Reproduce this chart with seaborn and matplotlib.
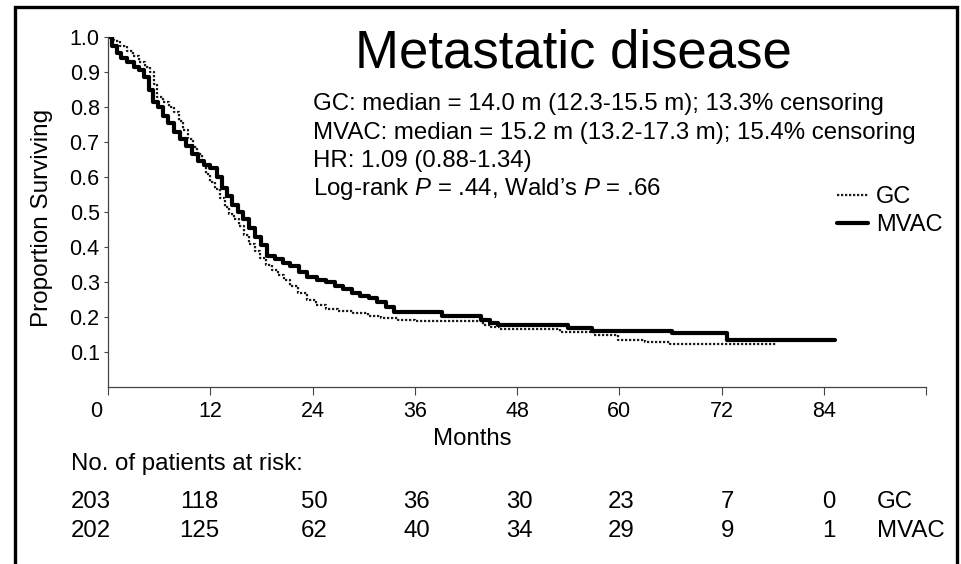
import numpy as np
import pandas as pd
import seaborn as sns
import matplotlib
matplotlib.use("Agg")
import matplotlib.pyplot as plt
from matplotlib.patches import Rectangle
import matplotlib.transforms as mtransforms

# ---------------- data ----------------
gc_months = [0, 0.7, 1.4, 2.2, 2.9, 3.6, 4.3, 4.9, 5.4, 5.8,
             6.5, 7.2, 7.8, 8.3, 8.8, 9.4, 10.0, 10.5, 11.0, 11.5,
             12.0, 12.6, 13.2, 13.7, 14.2, 14.8, 15.4, 16.0, 16.6, 17.2,
             17.8, 18.5, 19.2, 19.9, 20.6, 21.4, 22.3, 23.3, 24.4, 25.6,
             27.0, 28.8, 30.5, 32.0, 34.0, 36.0, 44.0, 45.0, 46.0, 53.0,
             57.0, 59.8, 63.0, 66.0, 78.5]
gc_surv = [1.0, 0.99, 0.975, 0.96, 0.945, 0.93, 0.915, 0.90, 0.865, 0.83,
           0.815, 0.80, 0.785, 0.76, 0.735, 0.71, 0.685, 0.665, 0.64, 0.61,
           0.585, 0.565, 0.54, 0.515, 0.495, 0.48, 0.46, 0.435, 0.41, 0.39,
           0.37, 0.35, 0.335, 0.32, 0.305, 0.29, 0.27, 0.25, 0.235, 0.222,
           0.216, 0.212, 0.203, 0.197, 0.192, 0.189, 0.178, 0.171, 0.166, 0.158,
           0.148, 0.135, 0.129, 0.123, 0.123]

mvac_months = [0, 0.5, 1.0, 1.5, 2.2, 3.0, 3.6, 4.2, 4.8, 5.3,
               5.9, 6.5, 7.1, 7.8, 8.5, 9.2, 9.9, 10.6, 11.3, 12.0,
               12.8, 13.4, 14.0, 14.6, 15.2, 15.9, 16.6, 17.3, 18.0, 18.7,
               19.6, 20.5, 21.4, 22.4, 23.4, 24.5, 25.6, 26.6, 27.6, 28.6,
               29.6, 30.6, 31.6, 32.6, 33.6, 39.2, 43.8, 44.8, 45.8, 54.0,
               56.8, 66.2, 72.6, 85.3]
mvac_surv = [1.0, 0.975, 0.955, 0.94, 0.93, 0.915, 0.905, 0.885, 0.85, 0.815,
             0.80, 0.775, 0.755, 0.73, 0.71, 0.69, 0.665, 0.645, 0.635, 0.625,
             0.60, 0.57, 0.546, 0.52, 0.50, 0.48, 0.455, 0.43, 0.405, 0.375,
             0.365, 0.355, 0.345, 0.33, 0.315, 0.305, 0.30, 0.29, 0.28, 0.27,
             0.26, 0.255, 0.243, 0.23, 0.214, 0.203, 0.192, 0.183, 0.177, 0.168,
             0.160, 0.154, 0.134, 0.134]

x_ticks = [0, 12, 24, 36, 48, 60, 72, 84, 96]
x_tick_labels = ["0", "12", "24", "36", "48", "60", "72", "84", ""]
y_ticks = [0.1, 0.2, 0.3, 0.4, 0.5, 0.6, 0.7, 0.8, 0.9, 1.0]
y_tick_labels = ["0.1", "0.2", "0.3", "0.4", "0.5", "0.6", "0.7", "0.8", "0.9", "1.0"]

risk_months = [0, 12, 24, 36, 48, 60, 72, 84]
risk_gc = [203, 118, 50, 36, 30, 23, 7, 0]
risk_mvac = [202, 125, 62, 40, 34, 29, 9, 1]

title = "Metastatic disease"
stats_lines = [
    "GC: median = 14.0 m (12.3-15.5 m); 13.3% censoring",
    "MVAC: median = 15.2 m (13.2-17.3 m); 15.4% censoring",
    "HR: 1.09 (0.88-1.34)",
    "Log-rank $P$ = .44, Wald\u2019s $P$ = .66",
]

# ---------------- style ----------------
sns.set_style("ticks")
plt.rcParams["font.family"] = ["Liberation Sans", "DejaVu Sans"]
plt.rcParams["mathtext.fontset"] = "custom"
plt.rcParams["mathtext.rm"] = "Liberation Sans"
plt.rcParams["mathtext.it"] = "Liberation Sans:italic"
plt.rcParams["text.color"] = "black"
plt.rcParams["axes.labelcolor"] = "black"
plt.rcParams["xtick.color"] = "black"
plt.rcParams["ytick.color"] = "black"

W, H = 961, 564
fig = plt.figure(figsize=(W / 100, H / 100), dpi=100)

def fx(px):
    return px / W

def fy(py):
    return 1 - py / H

ax_left, ax_right, ax_top, ax_bottom = 108, 926, 37, 387
ax = fig.add_axes([fx(ax_left), fy(ax_bottom), (ax_right - ax_left) / W, (ax_bottom - ax_top) / H])

gc_df = pd.DataFrame({"month": gc_months, "surv": gc_surv})
mvac_df = pd.DataFrame({"month": mvac_months, "surv": mvac_surv})

sns.lineplot(data=gc_df, x="month", y="surv", estimator=None, sort=False,
             drawstyle="steps-post", color="#1a1a1a", lw=1.6,
             linestyle=(0, (1, 0.8)), ax=ax, label="GC")
sns.lineplot(data=mvac_df, x="month", y="surv", estimator=None, sort=False,
             drawstyle="steps-post", color="black", lw=3.0, ax=ax, label="MVAC")

ax.set_xlim(0, 96)
ax.set_ylim(0, 1.0)
ax.set_xticks(x_ticks)
ax.set_xticklabels(x_tick_labels)
ax.set_yticks(y_ticks)
ax.set_yticklabels(y_tick_labels)
ax.tick_params(axis="x", length=6, width=0.8, color="#444444", labelcolor="black",
               labelsize=15.5, pad=4, direction="out")
ax.tick_params(axis="y", length=3, width=0.8, color="#444444", labelcolor="black",
               labelsize=15.5, pad=3, direction="out")
for s in ["top", "right"]:
    ax.spines[s].set_visible(False)
for s in ["left", "bottom"]:
    ax.spines[s].set_color("#444444")
    ax.spines[s].set_linewidth(0.9)

# shift the "0" x tick label slightly left as in reference
lbl0 = ax.get_xticklabels()[0]
lbl0.set_transform(lbl0.get_transform() + mtransforms.ScaledTranslation(-12 / 100, 0, fig.dpi_scale_trans))

ax.set_xlabel("Months", fontsize=17.3, color="black")
ax.xaxis.label.set_va("baseline")
ax.xaxis.set_label_coords((472 - ax_left) / (ax_right - ax_left), (ax_bottom - 445) / (ax_bottom - ax_top))
ax.set_ylabel("Proportion Surviving", fontsize=17.5, color="black")
ax.yaxis.label.set_va("center")
ax.yaxis.set_label_coords((42 - ax_left) / (ax_right - ax_left), (ax_bottom - 218) / (ax_bottom - ax_top))

leg = ax.legend(loc="upper left", bbox_to_anchor=(fx(837), fy(186)), bbox_transform=fig.transFigure,
                frameon=False, fontsize=17, handlelength=1.32, handletextpad=0.34,
                labelspacing=0.26, borderpad=0, borderaxespad=0)
for t in leg.get_texts():
    t.set_color("black")

# title and stats
fig.text(fx(355), fy(68), title, fontsize=38, ha="left", va="baseline", color="black")
for i, line in enumerate(stats_lines):
    fig.text(fx(313), fy(110 + 28.5 * i), line, fontsize=17.3, ha="left", va="baseline", color="black")

# at-risk table
fig.text(fx(71), fy(470), "No. of patients at risk:", fontsize=17.3, ha="left", va="baseline", color="black")
nudges = [-17, -11, 2, 2, 2, 2, 6, 5]
for m, g, v, d in zip(risk_months, risk_gc, risk_mvac, nudges):
    tr = ax.get_xaxis_transform() + mtransforms.ScaledTranslation(d / 100, 0, fig.dpi_scale_trans)
    ax.text(m, (ax_bottom - 508) / (ax_bottom - ax_top), str(g), transform=tr, fontsize=17.3,
            ha="center", va="baseline", clip_on=False, color="black")
    ax.text(m, (ax_bottom - 537) / (ax_bottom - ax_top), str(v), transform=tr, fontsize=17.3,
            ha="center", va="baseline", clip_on=False, color="black")
fig.text(fx(877), fy(508), "GC", fontsize=17.3, ha="left", va="baseline", color="black")
fig.text(fx(877), fy(537), "MVAC", fontsize=17.3, ha="left", va="baseline", color="black")

# outer frame
fig.patches.append(Rectangle((fx(15), -0.02), fx(957) - fx(15), fy(7) + 0.02, transform=fig.transFigure,
                             fill=False, edgecolor="black", linewidth=2.4))

fig.savefig("out.png", dpi=100)
